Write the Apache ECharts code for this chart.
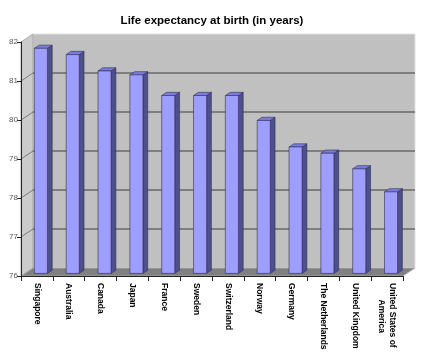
<!DOCTYPE html>
<html>
<head>
<meta charset="utf-8">
<script src="https://cdn.jsdelivr.net/npm/echarts@6/dist/echarts.min.js"></script>
<style>html,body{margin:0;padding:0;background:#fff}#c{width:424px;height:357px}</style>
</head>
<body>
<div id="c"></div>
<script>
const titleText = 'Life expectancy at birth (in years)';
const categories = ['Singapore', 'Australia', 'Canada', 'Japan', 'France', 'Sweden', 'Switzerland', 'Norway', 'Germany', 'The Netherlands', 'United Kingdom', 'United States of\n\u00a0\u00a0\u00a0\u00a0\u00a0\u00a0\u00a0America'];
const values = [81.77, 81.61, 81.19, 81.09, 80.56, 80.56, 80.56, 79.92, 79.24, 79.08, 78.68, 78.09];
const yMin = 76, yMax = 82, yStep = 1;
const gridValues = [77, 78, 79, 80, 81];

const FONT = 'Liberation Sans, Arial, sans-serif';
const DEPTH = [12, -8];        // wall depth vector (px)
const BAR_FRONT = 0.33;        // bar front face position within depth
const BAR_DEPTH = 0.4;         // bar depth as fraction of wall depth
const BAR_W = 0.41;            // bar width fraction of band

const chart = echarts.init(document.getElementById('c'), null, {renderer: 'canvas'});

function wallsRender(params, api) {
  const cs = params.coordSys;
  const x0 = cs.x, x1 = cs.x + cs.width;
  const yb = api.coord([0, yMin])[1];
  const yt = api.coord([0, yMax])[1];
  const dx = DEPTH[0], dy = DEPTH[1];
  const children = [];
  children.push({type: 'polygon', shape: {points: [[x0 + dx, yt + dy], [x1 + dx, yt + dy], [x1 + dx, yb + dy], [x0 + dx, yb + dy]]},
    style: {fill: '#c0c0c0', stroke: '#e2e2e2', lineWidth: 1}});
  children.push({type: 'polygon', shape: {points: [[x0, yt], [x0 + dx, yt + dy], [x0 + dx, yb + dy], [x0, yb]]},
    style: {fill: '#cbcbcb', stroke: '#a0a0a0', lineWidth: 0.8}});
  children.push({type: 'polygon', shape: {points: [[x0, yb], [x0 + dx, yb + dy], [x1 + dx, yb + dy], [x1, yb]]},
    style: {fill: '#808080', stroke: '#b0b0b0', lineWidth: 0.8}});
  gridValues.forEach(function (v) {
    const y = api.coord([0, v])[1];
    children.push({type: 'line', shape: {x1: x0, y1: y, x2: x0 + dx, y2: y + dy},
      style: {stroke: '#7a7a7a', lineWidth: 1}});
    children.push({type: 'line', shape: {x1: x0 + dx, y1: y + dy, x2: x1 + dx, y2: y + dy},
      style: {stroke: '#3c3c3c', lineWidth: 1}});
  });
  return {type: 'group', children: children};
}

function barRender(params, api) {
  const i = api.value(0), v = api.value(1);
  const base = api.coord([i, yMin]);
  const top = api.coord([i, v]);
  const bw = api.size([1, 0])[0];
  const w = bw * BAR_W;
  const ox = DEPTH[0] * BAR_FRONT, oy = DEPTH[1] * BAR_FRONT;
  const ddx = DEPTH[0] * BAR_DEPTH, ddy = DEPTH[1] * BAR_DEPTH;
  const xl = base[0] + ox - w / 2, xr = base[0] + ox + w / 2;
  const yt = top[1] + oy, yb = base[1] + oy;
  const edge = '#2f2f55';
  return {type: 'group', children: [
    {type: 'polygon', shape: {points: [[xr, yt], [xr + ddx, yt + ddy], [xr + ddx, yb + ddy], [xr, yb]]},
      style: {fill: '#4f4f8c', stroke: edge, lineWidth: 0.6}},
    {type: 'polygon', shape: {points: [[xl, yt], [xl + ddx, yt + ddy], [xr + ddx, yt + ddy], [xr, yt]]},
      style: {fill: '#7c7ce0', stroke: edge, lineWidth: 0.6}},
    {type: 'rect', shape: {x: xl, y: yt, width: w, height: yb - yt},
      style: {fill: '#9e9eff', stroke: edge, lineWidth: 0.6}}
  ]};
}

chart.setOption({
  animation: false,
  backgroundColor: '#ffffff',
  title: {text: titleText, left: 'center', top: 10,
    textStyle: {fontFamily: FONT, fontSize: 11.5, fontWeight: 'bold', color: '#000'}},
  grid: {left: 21, right: 21, top: 42, bottom: 81, containLabel: false},
  xAxis: {type: 'category', data: categories, z: 10,
    axisLine: {show: true, lineStyle: {color: '#222', width: 1}},
    axisTick: {show: true, interval: 0, alignWithLabel: false, length: 5, lineStyle: {color: '#222'}},
    axisLabel: {interval: 0, rotate: -90, margin: 7, fontFamily: FONT, fontSize: 8.5, fontWeight: 'bold', color: '#000', lineHeight: 11},
    splitLine: {show: false}},
  yAxis: {type: 'value', min: yMin, max: yMax, interval: yStep, z: 10,
    axisLine: {show: true, lineStyle: {color: '#222', width: 1}},
    axisTick: {show: true, length: 4, lineStyle: {color: '#222'}},
    axisLabel: {margin: 3, fontFamily: FONT, fontSize: 8, color: '#555'},
    splitLine: {show: false}},
  series: [
    {type: 'custom', z: 1, silent: true, renderItem: wallsRender, data: [[0, yMin]], clip: false},
    {type: 'custom', z: 3, renderItem: barRender, clip: false,
      data: values.map(function (v, i) { return [i, v]; })}
  ]
});
</script>
</body>
</html>
